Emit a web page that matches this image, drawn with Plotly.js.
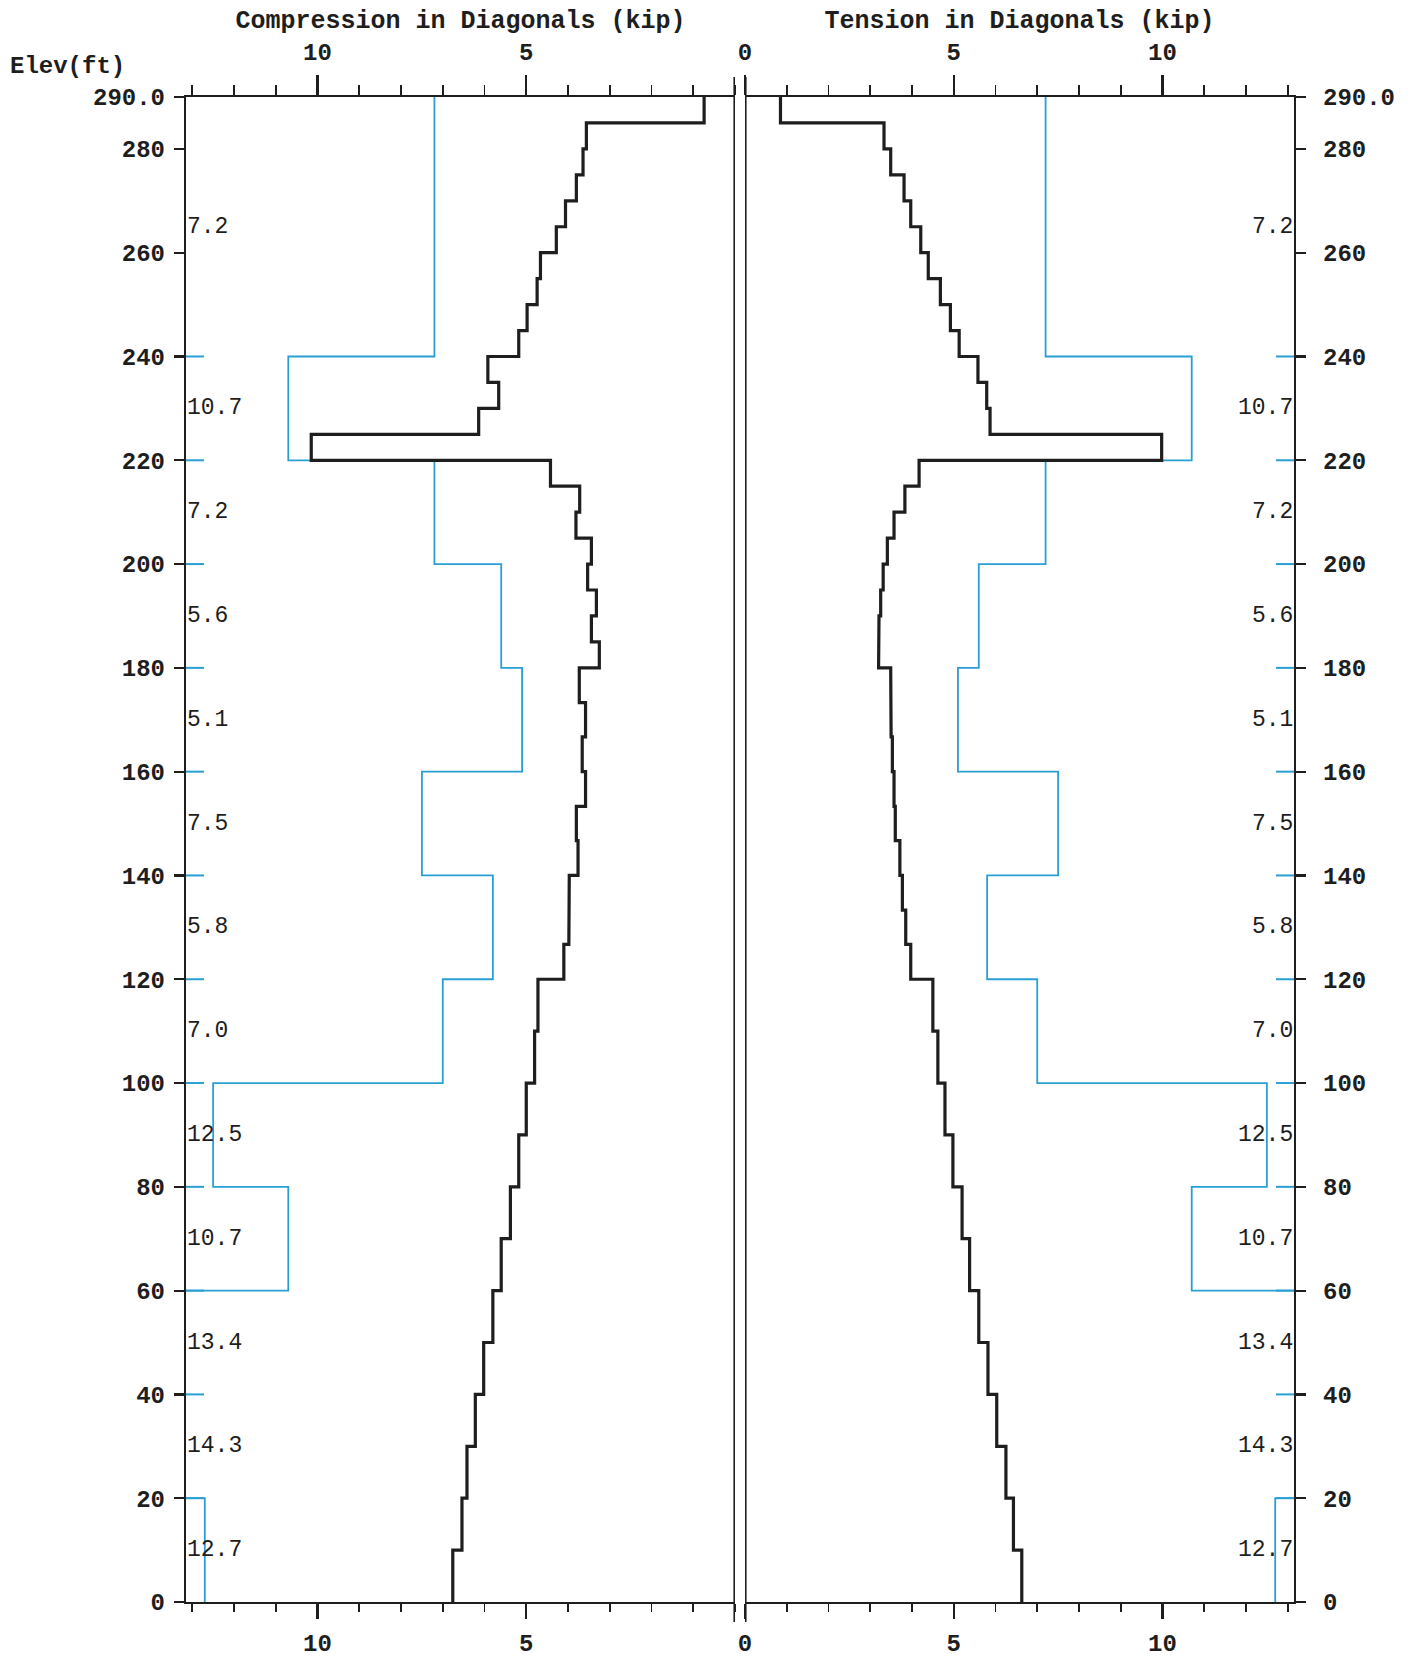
<!DOCTYPE html>
<html>
<head>
<meta charset="utf-8">
<script src="https://cdn.plot.ly/plotly-3.0.1.min.js"></script>
<style>
  html, body { margin: 0; padding: 0; background: #ffffff; }
  #chart { width: 1413px; height: 1657px; }
</style>
</head>
<body>
<div id="chart"></div>
<script>
// ---- Data ----
// Elevation breakpoints (ft), top to bottom, for the member-force step profiles
const elevBreaks = [290, 285, 280, 275, 270, 265, 260, 255, 250, 245, 240, 235, 230, 225, 220,
  215, 210, 205, 200, 195, 190, 185, 180, 173.3, 166.7, 160, 153.3, 146.7, 140, 133.3, 126.7,
  120, 110, 100, 90, 80, 70, 60, 50, 40, 30, 20, 10, 0];

// Compression in diagonals (kip), one value per interval between breakpoints
const compression = [0.74, 3.56, 3.64, 3.80, 4.06, 4.28, 4.66, 4.74, 4.98, 5.18,
  5.92, 5.66, 6.14, 10.15,
  4.42, 3.72, 3.81, 3.44,
  3.53, 3.32, 3.44, 3.25,
  3.73, 3.58, 3.66,
  3.58, 3.80, 3.76,
  3.97, 3.98, 4.10,
  4.72, 4.80,
  5.00, 5.18, 5.38, 5.60, 5.80, 6.02, 6.22, 6.42, 6.54, 6.76];

// Tension in diagonals (kip)
const tension = [0.85, 3.33, 3.49, 3.81, 3.97, 4.21, 4.39, 4.68, 4.92, 5.13,
  5.58, 5.79, 5.87, 9.98,
  4.17, 3.83, 3.57, 3.41,
  3.31, 3.25, 3.21, 3.20,
  3.49, 3.50, 3.53,
  3.57, 3.60, 3.71,
  3.77, 3.85, 3.97,
  4.50, 4.62,
  4.79, 4.98, 5.20, 5.38, 5.60, 5.82, 6.03, 6.25, 6.43, 6.63];

// Section capacity (kip) per tower panel
const capBreaks = [290, 240, 220, 200, 180, 160, 140, 120, 100, 80, 60, 40, 20, 0];
const capacity = [7.2, 10.7, 7.2, 5.6, 5.1, 7.5, 5.8, 7.0, 12.5, 10.7, 13.4, 14.3, 12.7];
const capLabels = ['7.2', '10.7', '7.2', '5.6', '5.1', '7.5', '5.8', '7.0', '12.5', '10.7', '13.4', '14.3', '12.7'];

// Axis ticks
const elevTicks = [0, 20, 40, 60, 80, 100, 120, 140, 160, 180, 200, 220, 240, 260, 280, 290];
const elevTickText = ['0', '20', '40', '60', '80', '100', '120', '140', '160', '180', '200', '220', '240', '260', '280', '290.0'];
const compTicks = [5, 10];
const tensTicks = [0, 5, 10];

// ---- Helpers ----
function stepProfile(breaks, vals) {
  const x = [], y = [];
  for (let i = 0; i < vals.length; i++) {
    x.push(vals[i], vals[i]);
    y.push(breaks[i], breaks[i + 1]);
  }
  return { x, y };
}

const BLUE = '#2a9fd4';
const INK = '#1e1e1e';
const MONO = 'Liberation Mono, DejaVu Sans Mono, Courier New, monospace';
const KMAX = 13.15;

const comp = stepProfile(elevBreaks, compression);
const tens = stepProfile(elevBreaks, tension);
const capL = stepProfile(capBreaks, capacity);
const capR = stepProfile(capBreaks, capacity);

const traces = [
  { x: capL.x, y: capL.y, xaxis: 'x', yaxis: 'y', mode: 'lines', line: { color: BLUE, width: 1.8 }, hoverinfo: 'skip', name: 'Capacity (compression)' },
  { x: comp.x, y: comp.y, xaxis: 'x', yaxis: 'y', mode: 'lines', line: { color: INK, width: 3.2 }, hoverinfo: 'skip', name: 'Compression' },
  { x: capR.x, y: capR.y, xaxis: 'x2', yaxis: 'y2', mode: 'lines', line: { color: BLUE, width: 1.8 }, hoverinfo: 'skip', name: 'Capacity (tension)' },
  { x: tens.x, y: tens.y, xaxis: 'x2', yaxis: 'y2', mode: 'lines', line: { color: INK, width: 3.2 }, hoverinfo: 'skip', name: 'Tension' },
  { x: [], y: [], xaxis: 'x3', yaxis: 'y', mode: 'lines', hoverinfo: 'skip', showlegend: false },
  { x: [], y: [], xaxis: 'x4', yaxis: 'y2', mode: 'lines', hoverinfo: 'skip', showlegend: false }
];

const tickFont = { family: MONO, size: 24, color: INK, weight: 'bold' };

function xAxisBase(extra) {
  return Object.assign({
    showgrid: false, zeroline: false, showline: true, linecolor: INK, linewidth: 2.2,
    ticks: 'outside', tickwidth: 2.2, tickcolor: INK,
    tickmode: 'array', tickfont: tickFont,
    fixedrange: true
  }, extra);
}

const layout = {
  width: 1413, height: 1657,
  margin: { l: 186, r: 119, t: 97, b: 55 },
  paper_bgcolor: '#ffffff', plot_bgcolor: '#ffffff',
  showlegend: false,
  font: { family: MONO, color: INK },
  xaxis: xAxisBase({
    domain: [0, 0.4955], range: [KMAX, 0], anchor: 'y', side: 'bottom',
    tickvals: compTicks, ticklen: 15, ticklabelstandoff: 3,
    minor: { tickmode: 'linear', tick0: 0, dtick: 1, ticks: 'outside', ticklen: 8, tickwidth: 1.6, tickcolor: INK, showgrid: false }
  }),
  xaxis3: xAxisBase({
    overlaying: 'x', range: [KMAX, 0], anchor: 'y', side: 'top',
    tickvals: compTicks, ticklen: 20, ticklabelstandoff: 5,
    minor: { tickmode: 'linear', tick0: 0, dtick: 1, ticks: 'outside', ticklen: 10, tickwidth: 1.6, tickcolor: INK, showgrid: false },
    title: { text: 'Compression in Diagonals (kip)', font: { family: MONO, size: 25, color: INK, weight: 'bold' }, standoff: 5 }
  }),
  xaxis2: xAxisBase({
    domain: [0.5045, 1], range: [0, KMAX], anchor: 'y2', side: 'bottom',
    tickvals: tensTicks, ticklen: 15, ticklabelstandoff: 3,
    minor: { tickmode: 'linear', tick0: 0, dtick: 1, ticks: 'outside', ticklen: 8, tickwidth: 1.6, tickcolor: INK, showgrid: false }
  }),
  xaxis4: xAxisBase({
    overlaying: 'x2', range: [0, KMAX], anchor: 'y2', side: 'top',
    tickvals: tensTicks, ticklen: 20, ticklabelstandoff: 5,
    minor: { tickmode: 'linear', tick0: 0, dtick: 1, ticks: 'outside', ticklen: 10, tickwidth: 1.6, tickcolor: INK, showgrid: false },
    title: { text: 'Tension in Diagonals (kip)', font: { family: MONO, size: 25, color: INK, weight: 'bold' }, standoff: 5 }
  }),
  yaxis: {
    domain: [0, 1], range: [0, 290], anchor: 'x', side: 'left',
    showgrid: false, zeroline: false, showline: true, linecolor: INK, linewidth: 2.2,
    ticks: 'outside', ticklen: 10, tickwidth: 2.2, tickcolor: INK,
    tickmode: 'array', tickvals: elevTicks, ticktext: elevTickText, tickfont: tickFont,
    ticklabelstandoff: 4, fixedrange: true
  },
  yaxis2: {
    domain: [0, 1], range: [0, 290], anchor: 'x2', side: 'right',
    showgrid: false, zeroline: false, showline: true, linecolor: INK, linewidth: 2.2,
    ticks: 'outside', ticklen: 10, tickwidth: 2.2, tickcolor: INK,
    tickmode: 'array', tickvals: elevTicks, ticktext: elevTickText, tickfont: tickFont,
    ticklabelstandoff: 12, fixedrange: true
  },
  shapes: [],
  annotations: []
};

// Double centre line (zero lines of both panels, extending past the frame)
['x', 'x2'].forEach(function (xr) {
  layout.shapes.push({ type: 'line', xref: xr, yref: 'paper', x0: 0, x1: 0, y0: -0.0133, y1: 1.0133,
    line: { color: INK, width: 3.2 }, layer: 'above' });
});

// Blue inner ticks at panel boundaries
const innerFrac = 18 / 549;
capBreaks.slice(1, -1).forEach(function (b) {
  layout.shapes.push({ type: 'line', xref: 'x domain', yref: 'y', x0: 0, x1: innerFrac, y0: b, y1: b,
    line: { color: BLUE, width: 2 } });
  layout.shapes.push({ type: 'line', xref: 'x2 domain', yref: 'y2', x0: 1 - innerFrac, x1: 1, y0: b, y1: b,
    line: { color: BLUE, width: 2 } });
});

// Capacity labels at mid-height of each panel
const labelFont = { family: MONO, size: 23, color: INK };
capacity.forEach(function (v, i) {
  const mid = (capBreaks[i] + capBreaks[i + 1]) / 2;
  layout.annotations.push({ xref: 'x domain', yref: 'y', x: 0, y: mid, xanchor: 'left', yanchor: 'middle',
    text: capLabels[i], showarrow: false, font: labelFont, borderpad: 0 });
  layout.annotations.push({ xref: 'x2 domain', yref: 'y2', x: 1, y: mid, xanchor: 'right', yanchor: 'middle',
    text: capLabels[i], showarrow: false, font: labelFont, borderpad: 0 });
});

// Elevation axis label
layout.annotations.push({ xref: 'paper', yref: 'paper', x: -0.1606, y: 1.0203, xanchor: 'left', yanchor: 'middle',
  text: 'Elev(ft)', showarrow: false, font: { family: MONO, size: 24, color: INK, weight: 'bold' } });

Plotly.newPlot('chart', traces, layout, { staticPlot: true, displayModeBar: false });
</script>
</body>
</html>
